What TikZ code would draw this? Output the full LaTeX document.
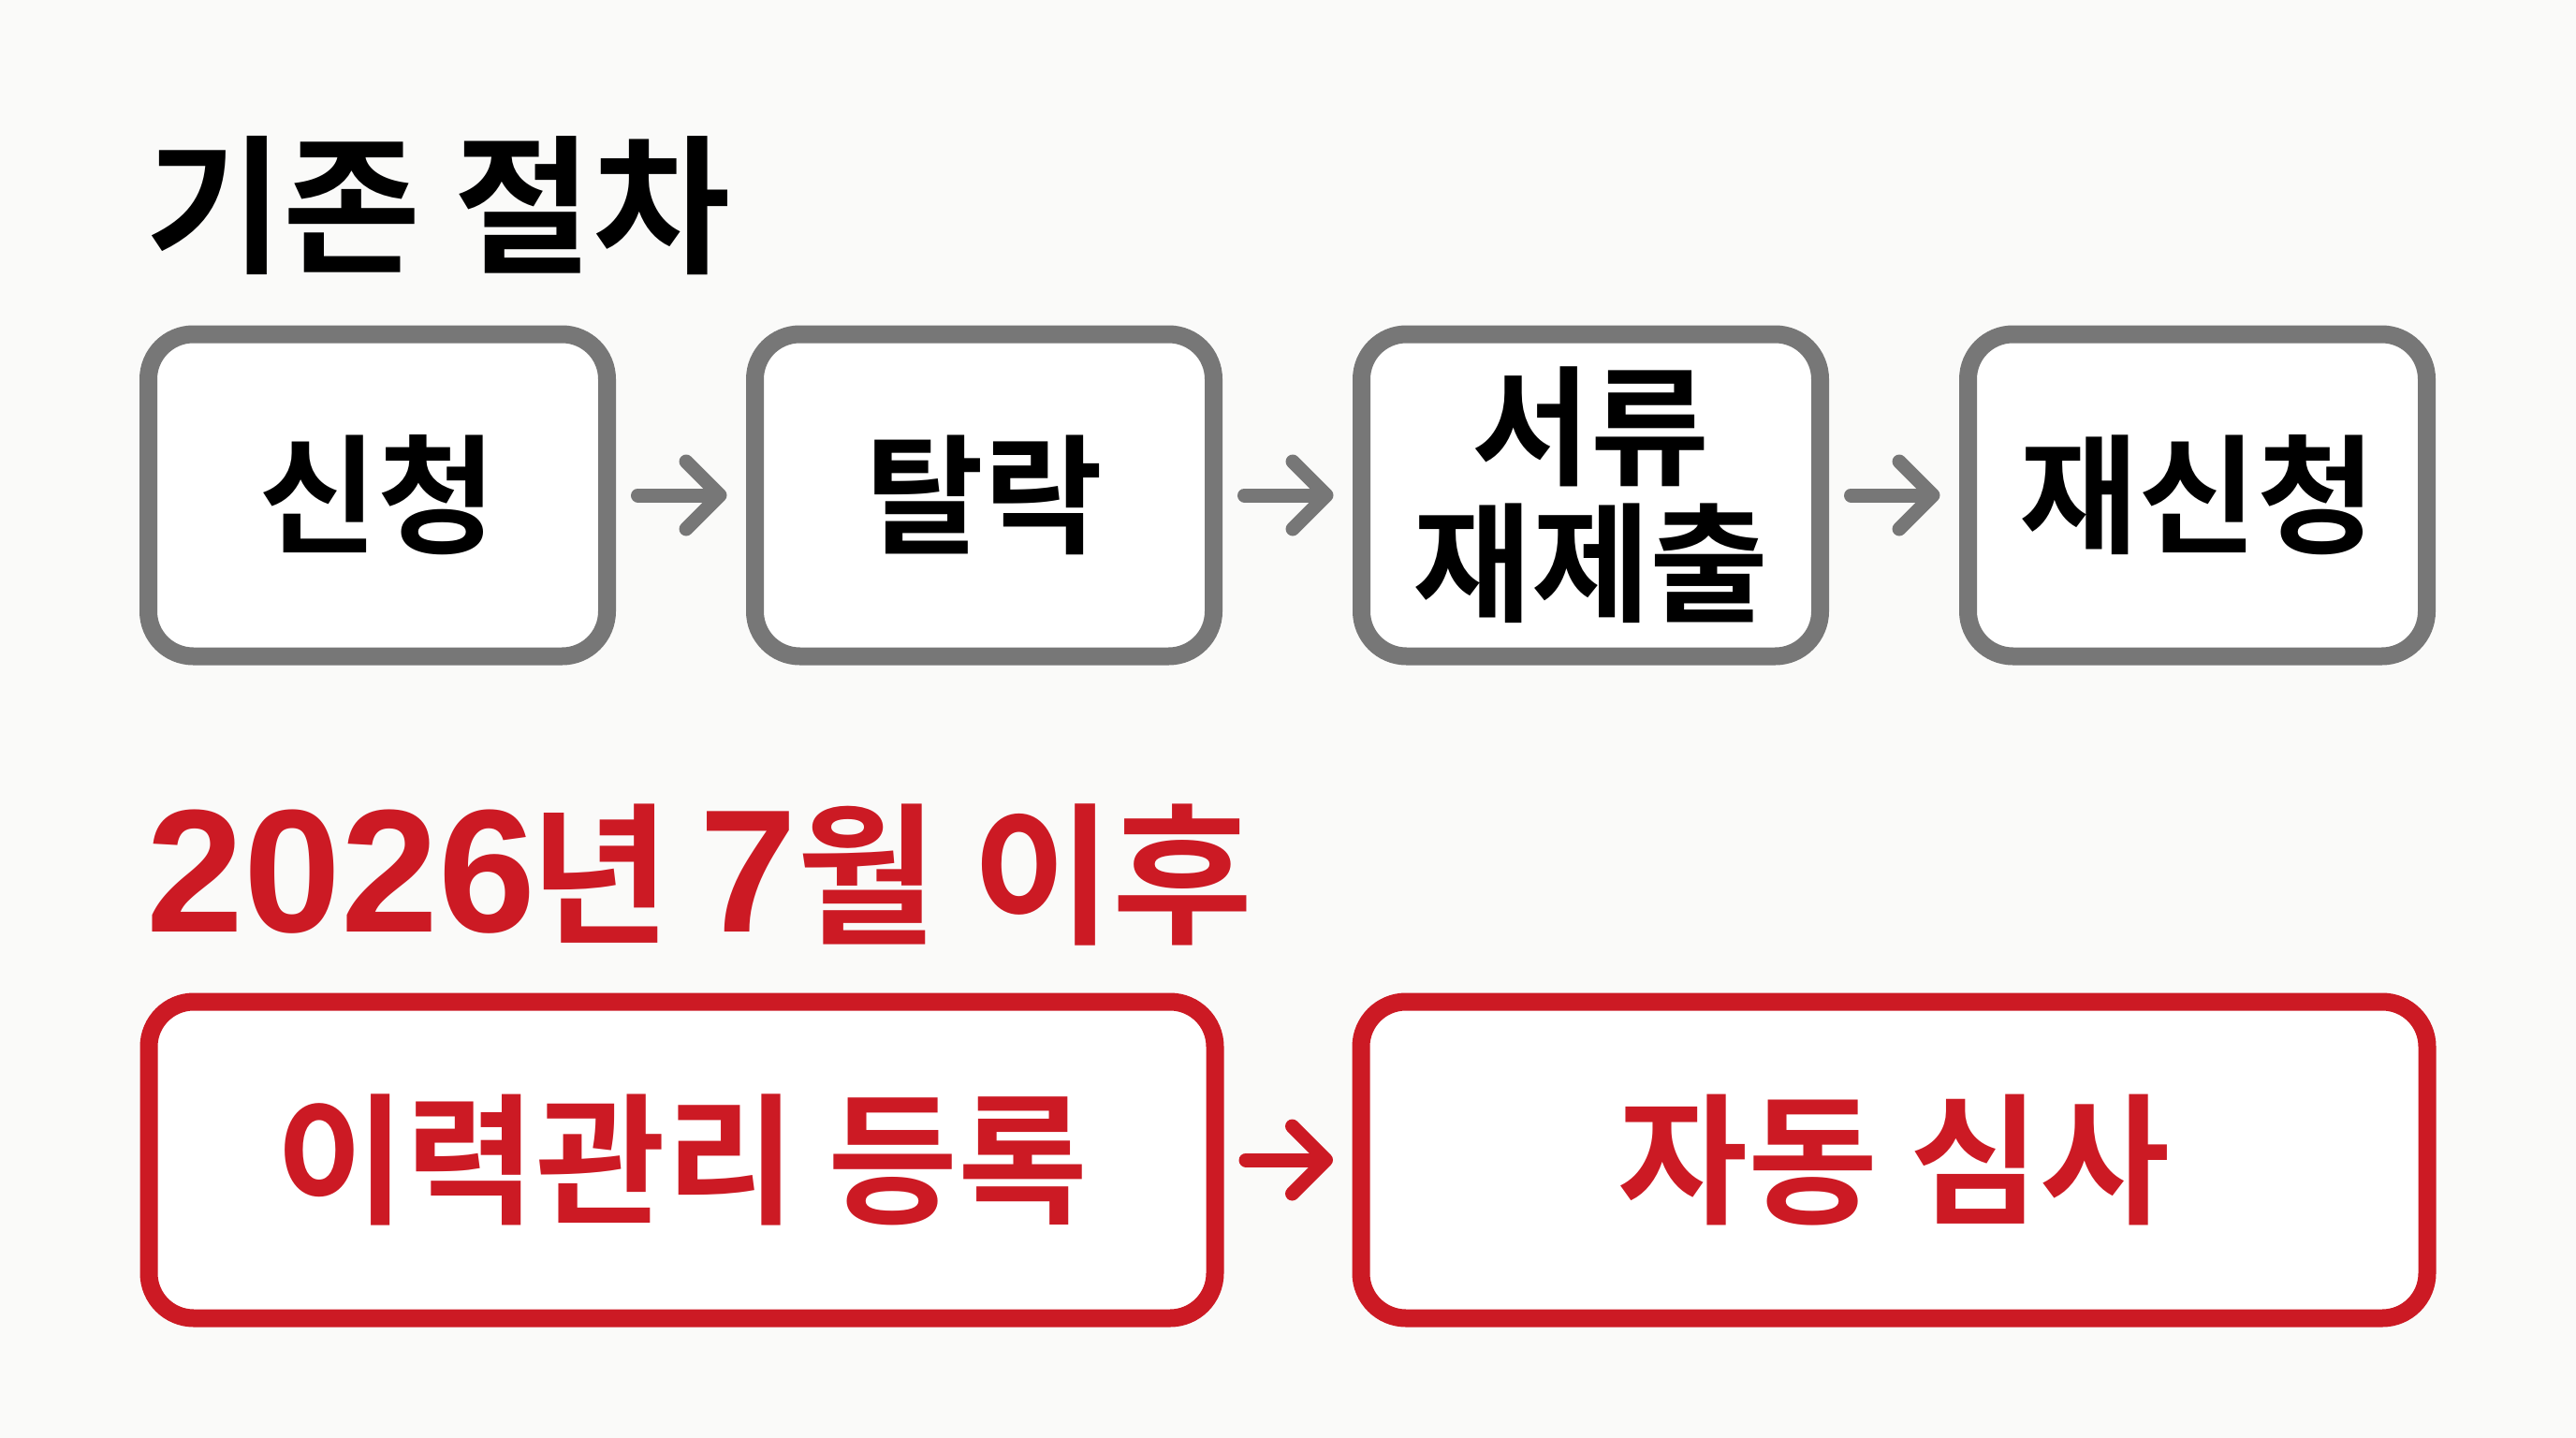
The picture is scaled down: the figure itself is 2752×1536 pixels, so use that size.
\documentclass[tikz,border=0pt]{standalone}
\usepackage{fontspec}
\setmainfont{Noto Sans CJK KR}[BoldFont=* Bold]
\newfontfamily\digitfont{Liberation Sans}[BoldFont=* Bold]
\usetikzlibrary{positioning, arrows.meta}
\definecolor{boxgray}{RGB}{119,119,119}
\definecolor{alertred}{RGB}{204,26,36}
\definecolor{paper}{RGB}{250,250,249}
\tikzstyle{oldstep}=[rectangle, rounded corners=48pt, draw=boxgray, line width=19pt, outer sep=0pt, fill=white, minimum width=490pt, minimum height=344pt, inner sep=0pt, text=black, align=center, font=\fontsize{138}{146}\selectfont\bfseries]
\tikzstyle{newstep}=[rectangle, rounded corners=48pt, draw=alertred, line width=19pt, outer sep=0pt, fill=white, minimum width=1139pt, minimum height=338pt, inner sep=0pt, text=alertred, align=center, font=\fontsize{151}{151}\selectfont\bfseries]
\tikzstyle{flow}=[line width=15pt, line cap=round, line join=round, -{Straight Barb[length=36pt, width=72pt, round]}, shorten <=33pt, shorten >=30pt]
\newcommand{\num}[1]{{\digitfont\fontsize{187}{187}\selectfont #1}}

\begin{document}
\begin{tikzpicture}[x=1pt, y=-1pt, title/.style={anchor=base west, inner sep=0pt, font=\fontsize{160}{160}\selectfont\bfseries}]
    \fill[paper] (0,0) rectangle (2752,1536);
    \node (oldtitle) [title, text=black] at (155,279) {기존 절차};
    \node (apply) [oldstep] at (403.5,529) {신청};
    \node (drop) [oldstep, right=158pt of apply] {탈락};
    \node (resubmit) [oldstep, right=158pt of drop] {서류\\재제출};
    \node (reapply) [oldstep, right=158pt of resubmit] {재신청};

    \node (newtitle) [title, text=alertred, font=\fontsize{163}{163}\selectfont\bfseries] at (156,995) {\num{2026}\hspace{-6pt}년\hspace{-6pt} \num{7}월 이후};
    \node (register) [newstep] at (728.5,1239) {이력관리 등록};
    \node (review) [newstep, right=156pt of register] {자동 심사};

    \draw [flow, boxgray] (apply) -- (drop);
    \draw [flow, boxgray] (drop) -- (resubmit);
    \draw [flow, boxgray] (resubmit) -- (reapply);
    \draw [flow, alertred] (register) -- (review);
\end{tikzpicture}
\end{document}
